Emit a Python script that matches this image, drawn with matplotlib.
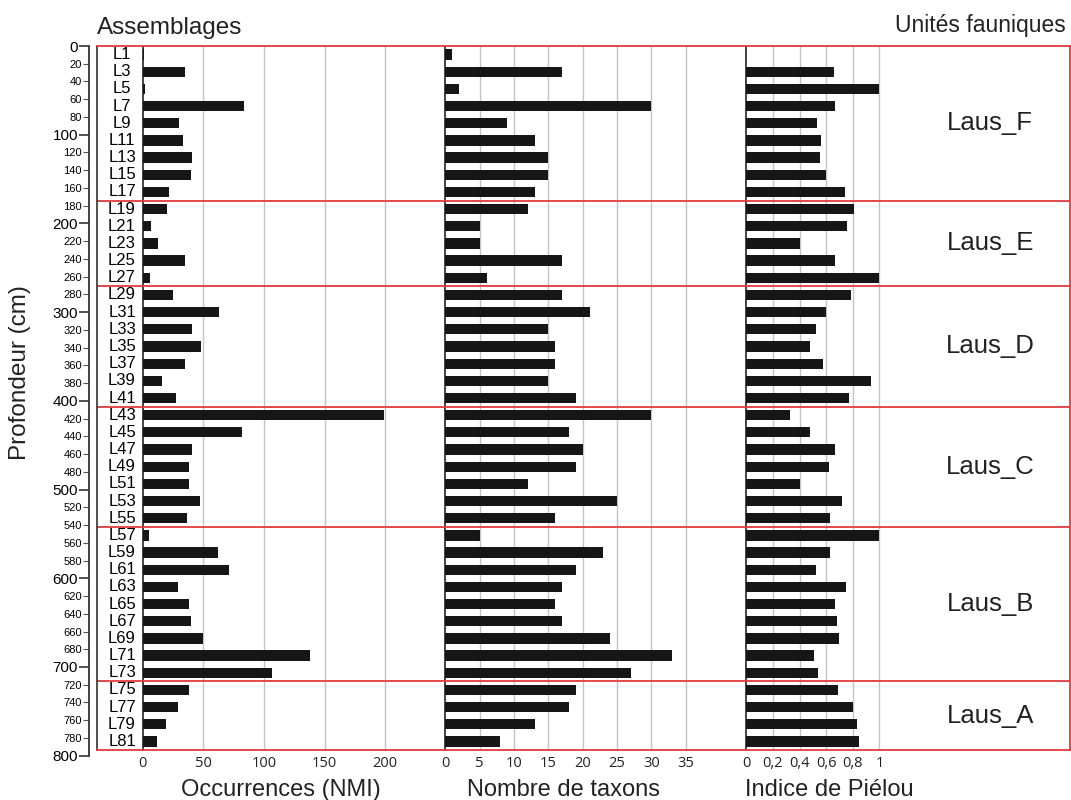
import matplotlib
matplotlib.use('Agg')
from matplotlib import pyplot as plt
import numpy as np

plt.rcParams['font.family'] = ['Liberation Sans', 'DejaVu Sans']

W, H = 1071, 800

samples = ["L1", "L3", "L5", "L7", "L9", "L11", "L13", "L15", "L17",
           "L19", "L21", "L23", "L25", "L27",
           "L29", "L31", "L33", "L35", "L37", "L39", "L41",
           "L43", "L45", "L47", "L49", "L51", "L53", "L55",
           "L57", "L59", "L61", "L63", "L65", "L67", "L69", "L71", "L73",
           "L75", "L77", "L79", "L81"]

occurrences = [1, 35, 2, 84, 30, 33, 41, 40, 22,
               20, 7, 13, 35, 6,
               25, 63, 41, 48, 35, 16, 28,
               199, 82, 41, 38, 38, 47, 37,
               5, 62, 71, 29, 38, 40, 50, 138, 107,
               38, 29, 19, 12]

taxa = [1, 17, 2, 30, 9, 13, 15, 15, 13,
        12, 5, 5, 17, 6,
        17, 21, 15, 16, 16, 15, 19,
        30, 18, 20, 19, 12, 25, 16,
        5, 23, 19, 17, 16, 17, 24, 33, 27,
        19, 18, 13, 8]

pielou = [0, 0.66, 1.0, 0.67, 0.53, 0.56, 0.55, 0.60, 0.74,
          0.81, 0.76, 0.40, 0.67, 1.0,
          0.79, 0.60, 0.52, 0.48, 0.58, 0.94, 0.77,
          0.33, 0.48, 0.67, 0.62, 0.40, 0.72, 0.63,
          1.0, 0.63, 0.52, 0.75, 0.67, 0.68, 0.70, 0.51, 0.54,
          0.69, 0.80, 0.83, 0.85]

units = ["Laus_F", "Laus_E", "Laus_D", "Laus_C", "Laus_B", "Laus_A"]
unit_sizes = [9, 5, 7, 7, 9, 4]

occ_ticks = [0, 50, 100, 150, 200]
taxa_ticks = [0, 5, 10, 15, 20, 25, 30, 35]
pielou_ticks = [0, 0.2, 0.4, 0.6, 0.8, 1]
pielou_labels = ["0", "0,2", "0,4", "0,6", "0,8", "1"]

fig = plt.figure(figsize=(W / 100, H / 100), dpi=100)


def px_axes(x0, y0, x1, y1, **kw):
    return fig.add_axes([x0 / W, 1 - y1 / H, (x1 - x0) / W, (y1 - y0) / H], **kw)


TOP, BOT = 46, 750
n = len(samples)
ypos = np.arange(n)
ylim = (n - 0.5, -0.5)

# depth axis
ax_d = px_axes(89, 46, 90, 755.7)
ax_d.set_ylim(800, 0)
ax_d.set_xticks([])
for s in ['top', 'right', 'bottom']:
    ax_d.spines[s].set_visible(False)
ax_d.spines['left'].set_color('#333333')
ax_d.spines['left'].set_linewidth(1.3)
ax_d.set_yticks(np.arange(0, 801, 100))
ax_d.set_yticks([d for d in range(20, 800, 20) if d % 100], minor=True)
ax_d.set_yticklabels([str(d) for d in range(0, 801, 100)], fontsize=11)
ax_d.set_yticklabels([str(d) for d in range(20, 800, 20) if d % 100], minor=True, fontsize=8)
ax_d.tick_params(axis='y', which='major', length=7, width=1.2, pad=1, color='#333333')
ax_d.tick_params(axis='y', which='minor', length=4, width=0.8, pad=1, color='#555555')
ax_d.patch.set_visible(False)

# sample label column
ax_l = px_axes(97, TOP, 142.5, BOT)
ax_l.set_xlim(0, 1)
ax_l.set_ylim(*ylim)
ax_l.axis('off')
for i, lab in enumerate(samples):
    ax_l.text(0.55, i, lab, ha='center', va='center', fontsize=12)

panels = [
    (142.5, 445.3, occurrences, 1.214, occ_ticks, [str(t) for t in occ_ticks]),
    (445.3, 746.3, taxa, 6.87, taxa_ticks, [str(t) for t in taxa_ticks]),
    (746.3, 1070, pielou, 133.1, pielou_ticks, pielou_labels),
]
for x0, x1, vals, scale, ticks, tlabels in panels:
    ax = px_axes(x0, TOP, x1, BOT)
    ax.patch.set_visible(False)
    ax.barh(ypos, vals, height=0.6, color='#161616', zorder=3)
    ax.set_xlim(0, (x1 - x0) / scale)
    ax.set_ylim(*ylim)
    for t in ticks[1:]:
        ax.axvline(t, color='#c4c4c4', lw=1, zorder=1)
    ax.set_xticks(ticks)
    ax.set_xticklabels(tlabels, fontsize=10.5, family=['Open Sans', 'DejaVu Sans'], color='#222222')
    ax.tick_params(axis='x', length=0, pad=4)
    ax.set_yticks([])
    for s in ['top', 'right', 'bottom']:
        ax.spines[s].set_visible(False)
    ax.spines['left'].set_color('#111111')
    ax.spines['left'].set_linewidth(1.1)

# frame with faunal unit boundaries
ax_f = px_axes(97, TOP, 1070, BOT, zorder=5)
ax_f.patch.set_visible(False)
ax_f.set_ylim(*ylim)
ax_f.set_xlim(0, 1)
ax_f.set_xticks([])
ax_f.set_yticks([])
for s in ['top', 'bottom', 'right']:
    ax_f.spines[s].set_color('#e03a3a')
    ax_f.spines[s].set_linewidth(1.3)
ax_f.spines['left'].set_color('#333333')
ax_f.spines['left'].set_linewidth(1.2)
bounds = np.cumsum(unit_sizes)
starts = np.concatenate([[0], bounds[:-1]])
for b in bounds[:-1]:
    ax_f.axhline(b - 0.5, color='#e03a3a', lw=1.3)
for name, s0, b in zip(units, starts, bounds):
    ax_f.text(0.918, (s0 + b - 1) / 2, name, ha='center', va='center',
              fontsize=18.5, color='#222222', transform=ax_f.get_yaxis_transform())

# titles
fig.text(97 / W, 1 - 34 / H, "Assemblages", fontsize=17.5, ha='left', va='baseline', color='#222222')
fig.text(1066 / W, 1 - 32 / H, "Unités fauniques", fontsize=16.5, ha='right', va='baseline', color='#222222')
fig.text(20 / W, 1 - 373 / H, "Profondeur (cm)", fontsize=17.5, rotation=90, ha='center', va='center', color='#222222')
fig.text(281 / W, 1 - 796 / H, "Occurrences (NMI)", fontsize=17, ha='center', va='baseline', color='#222222')
fig.text(563.5 / W, 1 - 796 / H, "Nombre de taxons", fontsize=17, ha='center', va='baseline', color='#222222')
fig.text(829.5 / W, 1 - 796 / H, "Indice de Piélou", fontsize=17, ha='center', va='baseline', color='#222222')

fig.savefig("out.png", dpi=100)
